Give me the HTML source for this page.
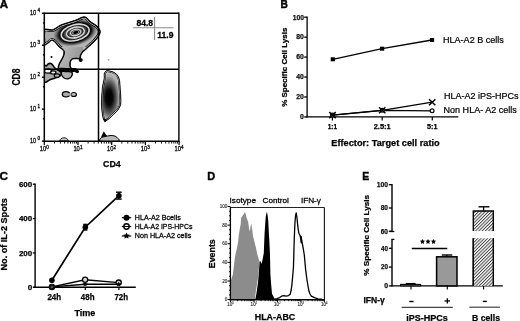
<!DOCTYPE html>
<html><head><meta charset="utf-8"><style>
html,body{margin:0;padding:0;background:#fff;width:520px;height:321px;overflow:hidden}
svg{display:block;font-family:"Liberation Sans", sans-serif;will-change:transform}
</style></head><body>
<svg width="520" height="321" viewBox="0 0 520 321">
<rect width="520" height="321" fill="#fff"/>
<text x="-0.30" y="8.20" font-size="11.3" font-weight="bold" text-anchor="start" fill="#000" stroke="#000" stroke-width="0.4" textLength="8.3" lengthAdjust="spacingAndGlyphs" >A</text>
<defs>
<clipPath id="clipUp"><path d="M40,10 H104 V47 H86 L60,47 L40,47Z"/></clipPath>
<clipPath id="clipA"><rect x="44.3" y="13.4" width="134.5" height="127.7"/></clipPath>
<clipPath id="clipBig"><path d="M43.50,30.10C44.97,27.68 50.05,30.17 52.30,29.70C54.55,29.23 55.60,28.08 57.00,27.30C58.40,26.52 59.15,25.70 60.70,25.00C62.25,24.30 64.42,23.72 66.30,23.10C68.18,22.48 70.22,21.88 72.00,21.30C73.78,20.72 75.50,20.22 77.00,19.60C78.50,18.98 79.83,18.07 81.00,17.60C82.17,17.13 83.00,16.77 84.00,16.80C85.00,16.83 86.08,17.13 87.00,17.80C87.92,18.47 88.50,19.88 89.50,20.80C90.50,21.72 91.75,22.43 93.00,23.30C94.25,24.17 95.78,24.68 97.00,26.00C98.22,27.32 100.05,29.45 100.30,31.20C100.55,32.95 99.55,34.70 98.50,36.50C97.45,38.30 95.58,40.33 94.00,42.00C92.42,43.67 90.42,45.20 89.00,46.50C87.58,47.80 86.58,48.78 85.50,49.80C84.42,50.82 83.28,51.65 82.50,52.60C81.72,53.55 81.18,54.55 80.80,55.50C80.42,56.45 80.67,57.73 80.20,58.30C79.73,58.87 78.87,58.83 78.00,58.90C77.13,58.97 75.95,58.63 75.00,58.70C74.05,58.77 73.00,58.88 72.30,59.30C71.60,59.72 71.13,60.42 70.80,61.20C70.47,61.98 70.33,63.03 70.30,64.00C70.27,64.97 70.32,66.23 70.60,67.00C70.88,67.77 71.27,68.22 72.00,68.60C72.73,68.98 75.33,69.13 75.00,69.30C74.67,69.47 72.17,69.55 70.00,69.60C67.83,69.65 63.92,69.63 62.00,69.60C60.08,69.57 59.13,69.92 58.50,69.40C57.87,68.88 58.03,67.60 58.20,66.50C58.37,65.40 58.90,64.08 59.50,62.80C60.10,61.52 61.13,60.10 61.80,58.80C62.47,57.50 63.17,56.22 63.50,55.00C63.83,53.78 64.05,52.45 63.80,51.50C63.55,50.55 62.75,50.00 62.00,49.30C61.25,48.60 60.10,48.05 59.30,47.30C58.50,46.55 58.05,45.77 57.20,44.80C56.35,43.83 55.18,42.20 54.20,41.50C53.22,40.80 52.40,40.25 51.30,40.60C50.20,40.95 48.90,43.00 47.60,43.60C46.30,44.20 44.18,46.45 43.50,44.20C42.82,41.95 42.03,32.52 43.50,30.10Z"/></clipPath>
<clipPath id="clipCD4"><path d="M106.70,70.60C107.82,70.23 109.53,70.87 111.00,71.30C112.47,71.73 114.25,72.25 115.50,73.20C116.75,74.15 117.78,75.53 118.50,77.00C119.22,78.47 119.50,79.83 119.80,82.00C120.10,84.17 120.12,87.33 120.30,90.00C120.48,92.67 120.83,95.57 120.90,98.00C120.97,100.43 121.18,102.62 120.70,104.60C120.22,106.58 119.20,108.25 118.00,109.90C116.80,111.55 114.95,113.05 113.50,114.50C112.05,115.95 110.47,117.60 109.30,118.60C108.13,119.60 107.22,120.02 106.50,120.50C105.78,120.98 105.55,121.83 105.00,121.50C104.45,121.17 103.67,119.85 103.20,118.50C102.73,117.15 102.48,115.48 102.20,113.40C101.92,111.32 101.62,108.33 101.50,106.00C101.38,103.67 101.42,101.73 101.50,99.40C101.58,97.07 101.85,94.03 102.00,92.00C102.15,89.97 102.05,89.45 102.40,87.20C102.75,84.95 103.78,80.78 104.10,78.50C104.42,76.22 103.87,74.82 104.30,73.50C104.73,72.18 105.58,70.97 106.70,70.60Z"/></clipPath>
<radialGradient id="gHalo" cx="0.5" cy="0.5" r="0.5"><stop offset="0.64" stop-color="#000" stop-opacity="1"/><stop offset="0.74" stop-color="#000" stop-opacity="0.9"/><stop offset="0.87" stop-color="#222" stop-opacity="0.45"/><stop offset="1" stop-color="#333" stop-opacity="0"/></radialGradient>
<radialGradient id="gBand0" cx="0.5" cy="0.5" r="0.5"><stop offset="0.62" stop-color="#8a8a8a"/><stop offset="0.85" stop-color="#222"/><stop offset="1" stop-color="#000"/></radialGradient>
<radialGradient id="gBand1" cx="0.5" cy="0.5" r="0.5"><stop offset="0.55" stop-color="#8a8a8a"/><stop offset="0.85" stop-color="#222"/><stop offset="1" stop-color="#000"/></radialGradient>
<radialGradient id="gBand2" cx="0.5" cy="0.5" r="0.5"><stop offset="0.6" stop-color="#8a8a8a"/><stop offset="0.85" stop-color="#222"/><stop offset="1" stop-color="#000"/></radialGradient>
<radialGradient id="gCD4" cx="0.45" cy="0.5" r="0.5"><stop offset="0" stop-color="#000"/><stop offset="0.3" stop-color="#080808"/><stop offset="0.62" stop-color="#5a5a5a"/><stop offset="0.85" stop-color="#a8a8a8"/><stop offset="1" stop-color="#c0c0c0"/></radialGradient>
</defs>
<g clip-path="url(#clipA)">
<path d="M43.50,30.10C44.97,27.68 50.05,30.17 52.30,29.70C54.55,29.23 55.60,28.08 57.00,27.30C58.40,26.52 59.15,25.70 60.70,25.00C62.25,24.30 64.42,23.72 66.30,23.10C68.18,22.48 70.22,21.88 72.00,21.30C73.78,20.72 75.50,20.22 77.00,19.60C78.50,18.98 79.83,18.07 81.00,17.60C82.17,17.13 83.00,16.77 84.00,16.80C85.00,16.83 86.08,17.13 87.00,17.80C87.92,18.47 88.50,19.88 89.50,20.80C90.50,21.72 91.75,22.43 93.00,23.30C94.25,24.17 95.78,24.68 97.00,26.00C98.22,27.32 100.05,29.45 100.30,31.20C100.55,32.95 99.55,34.70 98.50,36.50C97.45,38.30 95.58,40.33 94.00,42.00C92.42,43.67 90.42,45.20 89.00,46.50C87.58,47.80 86.58,48.78 85.50,49.80C84.42,50.82 83.28,51.65 82.50,52.60C81.72,53.55 81.18,54.55 80.80,55.50C80.42,56.45 80.67,57.73 80.20,58.30C79.73,58.87 78.87,58.83 78.00,58.90C77.13,58.97 75.95,58.63 75.00,58.70C74.05,58.77 73.00,58.88 72.30,59.30C71.60,59.72 71.13,60.42 70.80,61.20C70.47,61.98 70.33,63.03 70.30,64.00C70.27,64.97 70.32,66.23 70.60,67.00C70.88,67.77 71.27,68.22 72.00,68.60C72.73,68.98 75.33,69.13 75.00,69.30C74.67,69.47 72.17,69.55 70.00,69.60C67.83,69.65 63.92,69.63 62.00,69.60C60.08,69.57 59.13,69.92 58.50,69.40C57.87,68.88 58.03,67.60 58.20,66.50C58.37,65.40 58.90,64.08 59.50,62.80C60.10,61.52 61.13,60.10 61.80,58.80C62.47,57.50 63.17,56.22 63.50,55.00C63.83,53.78 64.05,52.45 63.80,51.50C63.55,50.55 62.75,50.00 62.00,49.30C61.25,48.60 60.10,48.05 59.30,47.30C58.50,46.55 58.05,45.77 57.20,44.80C56.35,43.83 55.18,42.20 54.20,41.50C53.22,40.80 52.40,40.25 51.30,40.60C50.20,40.95 48.90,43.00 47.60,43.60C46.30,44.20 44.18,46.45 43.50,44.20C42.82,41.95 42.03,32.52 43.50,30.10Z" fill="#b4b4b4"/>
<g clip-path="url(#clipBig)">
<ellipse cx="51" cy="36" rx="8" ry="6" fill="#a0a0a0" opacity="0.6"/>
<linearGradient id="gStem" x1="0" y1="0" x2="1" y2="0.3"><stop offset="0" stop-color="#c8c8c8"/><stop offset="1" stop-color="#8c8c8c"/></linearGradient>
<rect x="57" y="47" width="26" height="23" fill="url(#gStem)" opacity="0.8"/>
<ellipse cx="75.2" cy="32.6" rx="22.5" ry="13.2" fill="url(#gHalo)" transform="rotate(-14 75.2 32.6)" />
<g clip-path="url(#clipUp)">
<path d="M43.50,30.10C44.97,27.68 50.05,30.17 52.30,29.70C54.55,29.23 55.60,28.08 57.00,27.30C58.40,26.52 59.15,25.70 60.70,25.00C62.25,24.30 64.42,23.72 66.30,23.10C68.18,22.48 70.22,21.88 72.00,21.30C73.78,20.72 75.50,20.22 77.00,19.60C78.50,18.98 79.83,18.07 81.00,17.60C82.17,17.13 83.00,16.77 84.00,16.80C85.00,16.83 86.08,17.13 87.00,17.80C87.92,18.47 88.50,19.88 89.50,20.80C90.50,21.72 91.75,22.43 93.00,23.30C94.25,24.17 95.78,24.68 97.00,26.00C98.22,27.32 100.05,29.45 100.30,31.20C100.55,32.95 99.55,34.70 98.50,36.50C97.45,38.30 95.58,40.33 94.00,42.00C92.42,43.67 90.42,45.20 89.00,46.50C87.58,47.80 86.58,48.78 85.50,49.80C84.42,50.82 83.28,51.65 82.50,52.60C81.72,53.55 81.18,54.55 80.80,55.50C80.42,56.45 80.67,57.73 80.20,58.30C79.73,58.87 78.87,58.83 78.00,58.90C77.13,58.97 75.95,58.63 75.00,58.70C74.05,58.77 73.00,58.88 72.30,59.30C71.60,59.72 71.13,60.42 70.80,61.20C70.47,61.98 70.33,63.03 70.30,64.00C70.27,64.97 70.32,66.23 70.60,67.00C70.88,67.77 71.27,68.22 72.00,68.60C72.73,68.98 75.33,69.13 75.00,69.30C74.67,69.47 72.17,69.55 70.00,69.60C67.83,69.65 63.92,69.63 62.00,69.60C60.08,69.57 59.13,69.92 58.50,69.40C57.87,68.88 58.03,67.60 58.20,66.50C58.37,65.40 58.90,64.08 59.50,62.80C60.10,61.52 61.13,60.10 61.80,58.80C62.47,57.50 63.17,56.22 63.50,55.00C63.83,53.78 64.05,52.45 63.80,51.50C63.55,50.55 62.75,50.00 62.00,49.30C61.25,48.60 60.10,48.05 59.30,47.30C58.50,46.55 58.05,45.77 57.20,44.80C56.35,43.83 55.18,42.20 54.20,41.50C53.22,40.80 52.40,40.25 51.30,40.60C50.20,40.95 48.90,43.00 47.60,43.60C46.30,44.20 44.18,46.45 43.50,44.20C42.82,41.95 42.03,32.52 43.50,30.10Z" fill="none" stroke="#000" stroke-width="4.6"/>
<path d="M43.50,30.10C44.97,27.68 50.05,30.17 52.30,29.70C54.55,29.23 55.60,28.08 57.00,27.30C58.40,26.52 59.15,25.70 60.70,25.00C62.25,24.30 64.42,23.72 66.30,23.10C68.18,22.48 70.22,21.88 72.00,21.30C73.78,20.72 75.50,20.22 77.00,19.60C78.50,18.98 79.83,18.07 81.00,17.60C82.17,17.13 83.00,16.77 84.00,16.80C85.00,16.83 86.08,17.13 87.00,17.80C87.92,18.47 88.50,19.88 89.50,20.80C90.50,21.72 91.75,22.43 93.00,23.30C94.25,24.17 95.78,24.68 97.00,26.00C98.22,27.32 100.05,29.45 100.30,31.20C100.55,32.95 99.55,34.70 98.50,36.50C97.45,38.30 95.58,40.33 94.00,42.00C92.42,43.67 90.42,45.20 89.00,46.50C87.58,47.80 86.58,48.78 85.50,49.80C84.42,50.82 83.28,51.65 82.50,52.60C81.72,53.55 81.18,54.55 80.80,55.50C80.42,56.45 80.67,57.73 80.20,58.30C79.73,58.87 78.87,58.83 78.00,58.90C77.13,58.97 75.95,58.63 75.00,58.70C74.05,58.77 73.00,58.88 72.30,59.30C71.60,59.72 71.13,60.42 70.80,61.20C70.47,61.98 70.33,63.03 70.30,64.00C70.27,64.97 70.32,66.23 70.60,67.00C70.88,67.77 71.27,68.22 72.00,68.60C72.73,68.98 75.33,69.13 75.00,69.30C74.67,69.47 72.17,69.55 70.00,69.60C67.83,69.65 63.92,69.63 62.00,69.60C60.08,69.57 59.13,69.92 58.50,69.40C57.87,68.88 58.03,67.60 58.20,66.50C58.37,65.40 58.90,64.08 59.50,62.80C60.10,61.52 61.13,60.10 61.80,58.80C62.47,57.50 63.17,56.22 63.50,55.00C63.83,53.78 64.05,52.45 63.80,51.50C63.55,50.55 62.75,50.00 62.00,49.30C61.25,48.60 60.10,48.05 59.30,47.30C58.50,46.55 58.05,45.77 57.20,44.80C56.35,43.83 55.18,42.20 54.20,41.50C53.22,40.80 52.40,40.25 51.30,40.60C50.20,40.95 48.90,43.00 47.60,43.60C46.30,44.20 44.18,46.45 43.50,44.20C42.82,41.95 42.03,32.52 43.50,30.10Z" fill="none" stroke="#e0e0e0" stroke-width="3.2"/>
</g>
<path d="M43.50,30.10C44.97,27.68 50.05,30.17 52.30,29.70C54.55,29.23 55.60,28.08 57.00,27.30C58.40,26.52 59.15,25.70 60.70,25.00C62.25,24.30 64.42,23.72 66.30,23.10C68.18,22.48 70.22,21.88 72.00,21.30C73.78,20.72 75.50,20.22 77.00,19.60C78.50,18.98 79.83,18.07 81.00,17.60C82.17,17.13 83.00,16.77 84.00,16.80C85.00,16.83 86.08,17.13 87.00,17.80C87.92,18.47 88.50,19.88 89.50,20.80C90.50,21.72 91.75,22.43 93.00,23.30C94.25,24.17 95.78,24.68 97.00,26.00C98.22,27.32 100.05,29.45 100.30,31.20C100.55,32.95 99.55,34.70 98.50,36.50C97.45,38.30 95.58,40.33 94.00,42.00C92.42,43.67 90.42,45.20 89.00,46.50C87.58,47.80 86.58,48.78 85.50,49.80C84.42,50.82 83.28,51.65 82.50,52.60C81.72,53.55 81.18,54.55 80.80,55.50C80.42,56.45 80.67,57.73 80.20,58.30C79.73,58.87 78.87,58.83 78.00,58.90C77.13,58.97 75.95,58.63 75.00,58.70C74.05,58.77 73.00,58.88 72.30,59.30C71.60,59.72 71.13,60.42 70.80,61.20C70.47,61.98 70.33,63.03 70.30,64.00C70.27,64.97 70.32,66.23 70.60,67.00C70.88,67.77 71.27,68.22 72.00,68.60C72.73,68.98 75.33,69.13 75.00,69.30C74.67,69.47 72.17,69.55 70.00,69.60C67.83,69.65 63.92,69.63 62.00,69.60C60.08,69.57 59.13,69.92 58.50,69.40C57.87,68.88 58.03,67.60 58.20,66.50C58.37,65.40 58.90,64.08 59.50,62.80C60.10,61.52 61.13,60.10 61.80,58.80C62.47,57.50 63.17,56.22 63.50,55.00C63.83,53.78 64.05,52.45 63.80,51.50C63.55,50.55 62.75,50.00 62.00,49.30C61.25,48.60 60.10,48.05 59.30,47.30C58.50,46.55 58.05,45.77 57.20,44.80C56.35,43.83 55.18,42.20 54.20,41.50C53.22,40.80 52.40,40.25 51.30,40.60C50.20,40.95 48.90,43.00 47.60,43.60C46.30,44.20 44.18,46.45 43.50,44.20C42.82,41.95 42.03,32.52 43.50,30.10Z" fill="none" stroke="#000" stroke-width="2.0"/>
</g>
<path d="M43.50,30.10C44.97,27.68 50.05,30.17 52.30,29.70C54.55,29.23 55.60,28.08 57.00,27.30C58.40,26.52 59.15,25.70 60.70,25.00C62.25,24.30 64.42,23.72 66.30,23.10C68.18,22.48 70.22,21.88 72.00,21.30C73.78,20.72 75.50,20.22 77.00,19.60C78.50,18.98 79.83,18.07 81.00,17.60C82.17,17.13 83.00,16.77 84.00,16.80C85.00,16.83 86.08,17.13 87.00,17.80C87.92,18.47 88.50,19.88 89.50,20.80C90.50,21.72 91.75,22.43 93.00,23.30C94.25,24.17 95.78,24.68 97.00,26.00C98.22,27.32 100.05,29.45 100.30,31.20C100.55,32.95 99.55,34.70 98.50,36.50C97.45,38.30 95.58,40.33 94.00,42.00C92.42,43.67 90.42,45.20 89.00,46.50C87.58,47.80 86.58,48.78 85.50,49.80C84.42,50.82 83.28,51.65 82.50,52.60C81.72,53.55 81.18,54.55 80.80,55.50C80.42,56.45 80.67,57.73 80.20,58.30C79.73,58.87 78.87,58.83 78.00,58.90C77.13,58.97 75.95,58.63 75.00,58.70C74.05,58.77 73.00,58.88 72.30,59.30C71.60,59.72 71.13,60.42 70.80,61.20C70.47,61.98 70.33,63.03 70.30,64.00C70.27,64.97 70.32,66.23 70.60,67.00C70.88,67.77 71.27,68.22 72.00,68.60C72.73,68.98 75.33,69.13 75.00,69.30C74.67,69.47 72.17,69.55 70.00,69.60C67.83,69.65 63.92,69.63 62.00,69.60C60.08,69.57 59.13,69.92 58.50,69.40C57.87,68.88 58.03,67.60 58.20,66.50C58.37,65.40 58.90,64.08 59.50,62.80C60.10,61.52 61.13,60.10 61.80,58.80C62.47,57.50 63.17,56.22 63.50,55.00C63.83,53.78 64.05,52.45 63.80,51.50C63.55,50.55 62.75,50.00 62.00,49.30C61.25,48.60 60.10,48.05 59.30,47.30C58.50,46.55 58.05,45.77 57.20,44.80C56.35,43.83 55.18,42.20 54.20,41.50C53.22,40.80 52.40,40.25 51.30,40.60C50.20,40.95 48.90,43.00 47.60,43.60C46.30,44.20 44.18,46.45 43.50,44.20C42.82,41.95 42.03,32.52 43.50,30.10Z" fill="none" stroke="#000" stroke-width="0.9"/>
<ellipse cx="75.2" cy="32.6" rx="14.2" ry="7.9" fill="url(#gBand0)" transform="rotate(-14 75.2 32.6)" />
<ellipse cx="75.2" cy="32.6" rx="14.2" ry="7.9" fill="none" transform="rotate(-14 75.2 32.6)" stroke="#d8d8d8" stroke-width="1.6"/>
<ellipse cx="75.4" cy="32.5" rx="9.1" ry="5.1" fill="url(#gBand1)" transform="rotate(-14 75.4 32.5)" />
<ellipse cx="75.4" cy="32.5" rx="9.1" ry="5.1" fill="none" transform="rotate(-14 75.4 32.5)" stroke="#d8d8d8" stroke-width="1.4"/>
<ellipse cx="75.6" cy="32.4" rx="5.2" ry="3.0" fill="url(#gBand2)" transform="rotate(-14 75.6 32.4)" />
<ellipse cx="75.6" cy="32.4" rx="5.2" ry="3.0" fill="none" transform="rotate(-14 75.6 32.4)" stroke="#d0d0d0" stroke-width="1.2"/>
<ellipse cx="75.8" cy="32.4" rx="2.6" ry="1.5" fill="#000" transform="rotate(-14 75.8 32.4)" />
<circle cx="51.5" cy="57.1" r="1.0" fill="#000"/>
<circle cx="108.7" cy="59.8" r="0.6" fill="#333"/>
<circle cx="80.7" cy="60.0" r="2.0" fill="#000"/>
<path d="M58.50,68.00C60.83,67.33 67.00,68.13 70.00,68.20C73.00,68.27 75.00,67.85 76.50,68.40C78.00,68.95 78.82,70.70 79.00,71.50C79.18,72.30 78.43,73.12 77.60,73.20C76.77,73.28 75.93,72.17 74.00,72.00C72.07,71.83 68.33,72.12 66.00,72.20C63.67,72.28 61.67,72.50 60.00,72.50C58.33,72.50 56.25,72.95 56.00,72.20C55.75,71.45 56.17,68.67 58.50,68.00Z" fill="#000"/>
<path d="M61.40,71.80C62.15,70.98 65.25,71.53 67.00,71.60C68.75,71.67 71.15,71.38 71.90,72.20C72.65,73.02 72.07,75.42 71.50,76.50C70.93,77.58 69.58,78.37 68.50,78.70C67.42,79.03 66.00,78.87 65.00,78.50C64.00,78.13 63.10,77.62 62.50,76.50C61.90,75.38 60.65,72.62 61.40,71.80Z" fill="#b0b0b0" stroke="#000" stroke-width="1.3"/>
<path d="M44.30,66.50C44.67,63.88 45.80,66.25 46.50,65.80C47.20,65.35 47.75,64.17 48.50,63.80C49.25,63.43 50.25,63.32 51.00,63.60C51.75,63.88 52.33,64.73 53.00,65.50C53.67,66.27 54.17,67.42 55.00,68.20C55.83,68.98 57.00,69.52 58.00,70.20C59.00,70.88 60.58,71.42 61.00,72.30C61.42,73.18 61.08,74.68 60.50,75.50C59.92,76.32 58.50,76.75 57.50,77.20C56.50,77.65 55.75,77.77 54.50,78.20C53.25,78.63 51.70,79.25 50.00,79.80C48.30,80.35 45.25,83.72 44.30,81.50C43.35,79.28 43.93,69.12 44.30,66.50Z" fill="#a8a8a8" stroke="#000" stroke-width="1.6"/>
<ellipse cx="48.0" cy="71.0" rx="3.6" ry="2.2" fill="#fff" stroke="#000" stroke-width="1.3"/>
<ellipse cx="53.3" cy="72.4" rx="2.6" ry="1.6" fill="#f0f0f0" stroke="#000" stroke-width="1.2"/>
<ellipse cx="57" cy="75.6" rx="2.8" ry="1.8" fill="#b0b0b0" stroke="#000" stroke-width="1.2"/>
<ellipse cx="66.0" cy="94.2" rx="3.7" ry="2.6" fill="#aaa" stroke="#000" stroke-width="1.2"/>
<ellipse cx="73.8" cy="94.5" rx="2.6" ry="2.0" fill="#bbb" stroke="#000" stroke-width="1.2"/>
<rect x="68.5" y="93.2" width="3" height="2.5" fill="#aaa"/>
<path d="M106.70,70.60C107.82,70.23 109.53,70.87 111.00,71.30C112.47,71.73 114.25,72.25 115.50,73.20C116.75,74.15 117.78,75.53 118.50,77.00C119.22,78.47 119.50,79.83 119.80,82.00C120.10,84.17 120.12,87.33 120.30,90.00C120.48,92.67 120.83,95.57 120.90,98.00C120.97,100.43 121.18,102.62 120.70,104.60C120.22,106.58 119.20,108.25 118.00,109.90C116.80,111.55 114.95,113.05 113.50,114.50C112.05,115.95 110.47,117.60 109.30,118.60C108.13,119.60 107.22,120.02 106.50,120.50C105.78,120.98 105.55,121.83 105.00,121.50C104.45,121.17 103.67,119.85 103.20,118.50C102.73,117.15 102.48,115.48 102.20,113.40C101.92,111.32 101.62,108.33 101.50,106.00C101.38,103.67 101.42,101.73 101.50,99.40C101.58,97.07 101.85,94.03 102.00,92.00C102.15,89.97 102.05,89.45 102.40,87.20C102.75,84.95 103.78,80.78 104.10,78.50C104.42,76.22 103.87,74.82 104.30,73.50C104.73,72.18 105.58,70.97 106.70,70.60Z" fill="#bdbdbd"/>
<g clip-path="url(#clipCD4)">
<ellipse cx="110.2" cy="97.5" rx="12" ry="25" fill="url(#gCD4)"/>
<path d="M106.70,70.60C107.82,70.23 109.53,70.87 111.00,71.30C112.47,71.73 114.25,72.25 115.50,73.20C116.75,74.15 117.78,75.53 118.50,77.00C119.22,78.47 119.50,79.83 119.80,82.00C120.10,84.17 120.12,87.33 120.30,90.00C120.48,92.67 120.83,95.57 120.90,98.00C120.97,100.43 121.18,102.62 120.70,104.60C120.22,106.58 119.20,108.25 118.00,109.90C116.80,111.55 114.95,113.05 113.50,114.50C112.05,115.95 110.47,117.60 109.30,118.60C108.13,119.60 107.22,120.02 106.50,120.50C105.78,120.98 105.55,121.83 105.00,121.50C104.45,121.17 103.67,119.85 103.20,118.50C102.73,117.15 102.48,115.48 102.20,113.40C101.92,111.32 101.62,108.33 101.50,106.00C101.38,103.67 101.42,101.73 101.50,99.40C101.58,97.07 101.85,94.03 102.00,92.00C102.15,89.97 102.05,89.45 102.40,87.20C102.75,84.95 103.78,80.78 104.10,78.50C104.42,76.22 103.87,74.82 104.30,73.50C104.73,72.18 105.58,70.97 106.70,70.60Z" fill="none" stroke="#000" stroke-width="2.9"/>
<path d="M106.70,70.60C107.82,70.23 109.53,70.87 111.00,71.30C112.47,71.73 114.25,72.25 115.50,73.20C116.75,74.15 117.78,75.53 118.50,77.00C119.22,78.47 119.50,79.83 119.80,82.00C120.10,84.17 120.12,87.33 120.30,90.00C120.48,92.67 120.83,95.57 120.90,98.00C120.97,100.43 121.18,102.62 120.70,104.60C120.22,106.58 119.20,108.25 118.00,109.90C116.80,111.55 114.95,113.05 113.50,114.50C112.05,115.95 110.47,117.60 109.30,118.60C108.13,119.60 107.22,120.02 106.50,120.50C105.78,120.98 105.55,121.83 105.00,121.50C104.45,121.17 103.67,119.85 103.20,118.50C102.73,117.15 102.48,115.48 102.20,113.40C101.92,111.32 101.62,108.33 101.50,106.00C101.38,103.67 101.42,101.73 101.50,99.40C101.58,97.07 101.85,94.03 102.00,92.00C102.15,89.97 102.05,89.45 102.40,87.20C102.75,84.95 103.78,80.78 104.10,78.50C104.42,76.22 103.87,74.82 104.30,73.50C104.73,72.18 105.58,70.97 106.70,70.60Z" fill="none" stroke="#e8e8e8" stroke-width="1.9"/>
<path d="M106.70,70.60C107.82,70.23 109.53,70.87 111.00,71.30C112.47,71.73 114.25,72.25 115.50,73.20C116.75,74.15 117.78,75.53 118.50,77.00C119.22,78.47 119.50,79.83 119.80,82.00C120.10,84.17 120.12,87.33 120.30,90.00C120.48,92.67 120.83,95.57 120.90,98.00C120.97,100.43 121.18,102.62 120.70,104.60C120.22,106.58 119.20,108.25 118.00,109.90C116.80,111.55 114.95,113.05 113.50,114.50C112.05,115.95 110.47,117.60 109.30,118.60C108.13,119.60 107.22,120.02 106.50,120.50C105.78,120.98 105.55,121.83 105.00,121.50C104.45,121.17 103.67,119.85 103.20,118.50C102.73,117.15 102.48,115.48 102.20,113.40C101.92,111.32 101.62,108.33 101.50,106.00C101.38,103.67 101.42,101.73 101.50,99.40C101.58,97.07 101.85,94.03 102.00,92.00C102.15,89.97 102.05,89.45 102.40,87.20C102.75,84.95 103.78,80.78 104.10,78.50C104.42,76.22 103.87,74.82 104.30,73.50C104.73,72.18 105.58,70.97 106.70,70.60Z" fill="none" stroke="#000" stroke-width="1.0"/>
</g>
<path d="M106.70,70.60C107.82,70.23 109.53,70.87 111.00,71.30C112.47,71.73 114.25,72.25 115.50,73.20C116.75,74.15 117.78,75.53 118.50,77.00C119.22,78.47 119.50,79.83 119.80,82.00C120.10,84.17 120.12,87.33 120.30,90.00C120.48,92.67 120.83,95.57 120.90,98.00C120.97,100.43 121.18,102.62 120.70,104.60C120.22,106.58 119.20,108.25 118.00,109.90C116.80,111.55 114.95,113.05 113.50,114.50C112.05,115.95 110.47,117.60 109.30,118.60C108.13,119.60 107.22,120.02 106.50,120.50C105.78,120.98 105.55,121.83 105.00,121.50C104.45,121.17 103.67,119.85 103.20,118.50C102.73,117.15 102.48,115.48 102.20,113.40C101.92,111.32 101.62,108.33 101.50,106.00C101.38,103.67 101.42,101.73 101.50,99.40C101.58,97.07 101.85,94.03 102.00,92.00C102.15,89.97 102.05,89.45 102.40,87.20C102.75,84.95 103.78,80.78 104.10,78.50C104.42,76.22 103.87,74.82 104.30,73.50C104.73,72.18 105.58,70.97 106.70,70.60Z" fill="none" stroke="#000" stroke-width="0.7"/>
<path d="M103.2,118.5 L104.8,122.6 L107.5,119.8Z" fill="#000"/>
<path d="M100.50,141.20C97.72,140.60 100.75,138.37 101.50,137.60C102.25,136.83 103.58,136.93 105.00,136.60C106.42,136.27 108.50,135.73 110.00,135.60C111.50,135.47 112.77,135.43 114.00,135.80C115.23,136.17 116.70,136.90 117.40,137.80C118.10,138.70 121.02,140.63 118.20,141.20C115.38,141.77 103.28,141.80 100.50,141.20Z" fill="#b8b8b8" stroke="#000" stroke-width="1.0"/>
<path d="M99.7,141 L101.5,136 L103.8,131.2 L105.8,134.5 L107.2,135.8 L105,136.6 L101.5,137.2Z" fill="#000"/>
<path d="M59.8,141 C60,137 67.5,136.5 68.4,141Z" fill="#ccc" stroke="#000" stroke-width="0.9"/>
</g>
<line x1="44.30" y1="13.20" x2="178.90" y2="13.20" stroke="#000" stroke-width="1.4" />
<line x1="178.90" y1="12.50" x2="178.90" y2="141.30" stroke="#000" stroke-width="1.4" />
<line x1="44.30" y1="12.50" x2="44.30" y2="141.90" stroke="#000" stroke-width="1.5" />
<line x1="43.60" y1="141.30" x2="179.60" y2="141.30" stroke="#000" stroke-width="1.6" />
<line x1="98.50" y1="13.20" x2="98.50" y2="141.00" stroke="#000" stroke-width="1.5" />
<line x1="44.30" y1="69.20" x2="178.90" y2="69.20" stroke="#000" stroke-width="1.5" />
<line x1="41.90" y1="141.10" x2="44.30" y2="141.10" stroke="#000" stroke-width="1.4" />
<text x="36.10" y="142.70" font-size="6.8" font-weight="normal" text-anchor="end" fill="#000" stroke="#000" stroke-width="0.26" textLength="6.2" lengthAdjust="spacingAndGlyphs" >10</text>
<text x="37.40" y="139.80" font-size="4.6" font-weight="normal" text-anchor="start" fill="#000" stroke="#000" stroke-width="0.26" >0</text>
<line x1="41.90" y1="109.15" x2="44.30" y2="109.15" stroke="#000" stroke-width="1.4" />
<text x="36.10" y="110.75" font-size="6.8" font-weight="normal" text-anchor="end" fill="#000" stroke="#000" stroke-width="0.26" textLength="6.2" lengthAdjust="spacingAndGlyphs" >10</text>
<text x="37.40" y="107.85" font-size="4.6" font-weight="normal" text-anchor="start" fill="#000" stroke="#000" stroke-width="0.26" >1</text>
<line x1="41.90" y1="77.20" x2="44.30" y2="77.20" stroke="#000" stroke-width="1.4" />
<text x="36.10" y="78.80" font-size="6.8" font-weight="normal" text-anchor="end" fill="#000" stroke="#000" stroke-width="0.26" textLength="6.2" lengthAdjust="spacingAndGlyphs" >10</text>
<text x="37.40" y="75.90" font-size="4.6" font-weight="normal" text-anchor="start" fill="#000" stroke="#000" stroke-width="0.26" >2</text>
<line x1="41.90" y1="45.25" x2="44.30" y2="45.25" stroke="#000" stroke-width="1.4" />
<text x="36.10" y="46.85" font-size="6.8" font-weight="normal" text-anchor="end" fill="#000" stroke="#000" stroke-width="0.26" textLength="6.2" lengthAdjust="spacingAndGlyphs" >10</text>
<text x="37.40" y="43.95" font-size="4.6" font-weight="normal" text-anchor="start" fill="#000" stroke="#000" stroke-width="0.26" >3</text>
<line x1="41.90" y1="13.30" x2="44.30" y2="13.30" stroke="#000" stroke-width="1.4" />
<text x="36.10" y="14.90" font-size="6.8" font-weight="normal" text-anchor="end" fill="#000" stroke="#000" stroke-width="0.26" textLength="6.2" lengthAdjust="spacingAndGlyphs" >10</text>
<text x="37.40" y="12.00" font-size="4.6" font-weight="normal" text-anchor="start" fill="#000" stroke="#000" stroke-width="0.26" >4</text>
<line x1="42.90" y1="118.77" x2="44.30" y2="118.77" stroke="#000" stroke-width="1.4" />
<line x1="42.90" y1="86.82" x2="44.30" y2="86.82" stroke="#000" stroke-width="1.4" />
<line x1="42.90" y1="54.87" x2="44.30" y2="54.87" stroke="#000" stroke-width="1.4" />
<line x1="42.90" y1="22.92" x2="44.30" y2="22.92" stroke="#000" stroke-width="1.4" />
<line x1="44.30" y1="141.30" x2="44.30" y2="145.00" stroke="#000" stroke-width="1.2" />
<text x="42.90" y="151.20" font-size="6.8" font-weight="normal" text-anchor="middle" fill="#000" stroke="#000" stroke-width="0.26" textLength="6.4" lengthAdjust="spacingAndGlyphs" >10</text>
<text x="46.20" y="148.90" font-size="4.6" font-weight="normal" text-anchor="start" fill="#000" stroke="#000" stroke-width="0.26" >0</text>
<line x1="78.00" y1="141.30" x2="78.00" y2="145.00" stroke="#000" stroke-width="1.2" />
<text x="76.60" y="151.20" font-size="6.8" font-weight="normal" text-anchor="middle" fill="#000" stroke="#000" stroke-width="0.26" textLength="6.4" lengthAdjust="spacingAndGlyphs" >10</text>
<text x="79.90" y="148.90" font-size="4.6" font-weight="normal" text-anchor="start" fill="#000" stroke="#000" stroke-width="0.26" >1</text>
<line x1="111.70" y1="141.30" x2="111.70" y2="145.00" stroke="#000" stroke-width="1.2" />
<text x="110.30" y="151.20" font-size="6.8" font-weight="normal" text-anchor="middle" fill="#000" stroke="#000" stroke-width="0.26" textLength="6.4" lengthAdjust="spacingAndGlyphs" >10</text>
<text x="113.60" y="148.90" font-size="4.6" font-weight="normal" text-anchor="start" fill="#000" stroke="#000" stroke-width="0.26" >2</text>
<line x1="145.40" y1="141.30" x2="145.40" y2="145.00" stroke="#000" stroke-width="1.2" />
<text x="144.00" y="151.20" font-size="6.8" font-weight="normal" text-anchor="middle" fill="#000" stroke="#000" stroke-width="0.26" textLength="6.4" lengthAdjust="spacingAndGlyphs" >10</text>
<text x="147.30" y="148.90" font-size="4.6" font-weight="normal" text-anchor="start" fill="#000" stroke="#000" stroke-width="0.26" >3</text>
<line x1="179.10" y1="141.30" x2="179.10" y2="145.00" stroke="#000" stroke-width="1.2" />
<text x="177.70" y="151.20" font-size="6.8" font-weight="normal" text-anchor="middle" fill="#000" stroke="#000" stroke-width="0.26" textLength="6.4" lengthAdjust="spacingAndGlyphs" >10</text>
<text x="181.00" y="148.90" font-size="4.6" font-weight="normal" text-anchor="start" fill="#000" stroke="#000" stroke-width="0.26" >4</text>
<line x1="54.44" y1="141.30" x2="54.44" y2="143.60" stroke="#000" stroke-width="0.9" />
<line x1="60.38" y1="141.30" x2="60.38" y2="143.60" stroke="#000" stroke-width="0.9" />
<line x1="64.59" y1="141.30" x2="64.59" y2="143.60" stroke="#000" stroke-width="0.9" />
<line x1="67.86" y1="141.30" x2="67.86" y2="143.60" stroke="#000" stroke-width="0.9" />
<line x1="70.52" y1="141.30" x2="70.52" y2="143.60" stroke="#000" stroke-width="0.9" />
<line x1="72.78" y1="141.30" x2="72.78" y2="143.60" stroke="#000" stroke-width="0.9" />
<line x1="74.73" y1="141.30" x2="74.73" y2="143.60" stroke="#000" stroke-width="0.9" />
<line x1="76.46" y1="141.30" x2="76.46" y2="143.60" stroke="#000" stroke-width="0.9" />
<line x1="88.14" y1="141.30" x2="88.14" y2="143.60" stroke="#000" stroke-width="0.9" />
<line x1="94.08" y1="141.30" x2="94.08" y2="143.60" stroke="#000" stroke-width="0.9" />
<line x1="98.29" y1="141.30" x2="98.29" y2="143.60" stroke="#000" stroke-width="0.9" />
<line x1="101.56" y1="141.30" x2="101.56" y2="143.60" stroke="#000" stroke-width="0.9" />
<line x1="104.22" y1="141.30" x2="104.22" y2="143.60" stroke="#000" stroke-width="0.9" />
<line x1="106.48" y1="141.30" x2="106.48" y2="143.60" stroke="#000" stroke-width="0.9" />
<line x1="108.43" y1="141.30" x2="108.43" y2="143.60" stroke="#000" stroke-width="0.9" />
<line x1="110.16" y1="141.30" x2="110.16" y2="143.60" stroke="#000" stroke-width="0.9" />
<line x1="121.84" y1="141.30" x2="121.84" y2="143.60" stroke="#000" stroke-width="0.9" />
<line x1="127.78" y1="141.30" x2="127.78" y2="143.60" stroke="#000" stroke-width="0.9" />
<line x1="131.99" y1="141.30" x2="131.99" y2="143.60" stroke="#000" stroke-width="0.9" />
<line x1="135.26" y1="141.30" x2="135.26" y2="143.60" stroke="#000" stroke-width="0.9" />
<line x1="137.92" y1="141.30" x2="137.92" y2="143.60" stroke="#000" stroke-width="0.9" />
<line x1="140.18" y1="141.30" x2="140.18" y2="143.60" stroke="#000" stroke-width="0.9" />
<line x1="142.13" y1="141.30" x2="142.13" y2="143.60" stroke="#000" stroke-width="0.9" />
<line x1="143.86" y1="141.30" x2="143.86" y2="143.60" stroke="#000" stroke-width="0.9" />
<line x1="155.54" y1="141.30" x2="155.54" y2="143.60" stroke="#000" stroke-width="0.9" />
<line x1="161.48" y1="141.30" x2="161.48" y2="143.60" stroke="#000" stroke-width="0.9" />
<line x1="165.69" y1="141.30" x2="165.69" y2="143.60" stroke="#000" stroke-width="0.9" />
<line x1="168.96" y1="141.30" x2="168.96" y2="143.60" stroke="#000" stroke-width="0.9" />
<line x1="171.62" y1="141.30" x2="171.62" y2="143.60" stroke="#000" stroke-width="0.9" />
<line x1="173.88" y1="141.30" x2="173.88" y2="143.60" stroke="#000" stroke-width="0.9" />
<line x1="175.83" y1="141.30" x2="175.83" y2="143.60" stroke="#000" stroke-width="0.9" />
<line x1="177.56" y1="141.30" x2="177.56" y2="143.60" stroke="#000" stroke-width="0.9" />
<text x="19.60" y="77.00" font-size="10.0" font-weight="bold" text-anchor="middle" fill="#000" stroke="#000" stroke-width="0.25" textLength="17.2" lengthAdjust="spacingAndGlyphs" transform="rotate(-90 19.60 77.00)" >CD8</text>
<text x="111.85" y="166.60" font-size="9.3" font-weight="bold" text-anchor="middle" fill="#000" stroke="#000" stroke-width="0.25" textLength="17.6" lengthAdjust="spacingAndGlyphs" >CD4</text>
<text x="136.50" y="25.50" font-size="9.0" font-weight="bold" text-anchor="start" fill="#000" stroke="#000" stroke-width="0.3" textLength="16.6" lengthAdjust="spacingAndGlyphs" >84.8</text>
<text x="157.30" y="37.90" font-size="9.0" font-weight="bold" text-anchor="start" fill="#000" stroke="#000" stroke-width="0.3" textLength="16.2" lengthAdjust="spacingAndGlyphs" >11.9</text>
<line x1="132.90" y1="27.70" x2="173.60" y2="27.70" stroke="#8a8a8a" stroke-width="1.1" />
<line x1="154.60" y1="17.10" x2="154.60" y2="40.10" stroke="#8a8a8a" stroke-width="1.1" />
<text x="280.40" y="8.40" font-size="11.3" font-weight="bold" text-anchor="start" fill="#000" stroke="#000" stroke-width="0.4" textLength="7.4" lengthAdjust="spacingAndGlyphs" >B</text>
<line x1="307.10" y1="16.40" x2="307.10" y2="117.60" stroke="#000" stroke-width="1.3" />
<line x1="306.50" y1="116.90" x2="458.30" y2="116.90" stroke="#000" stroke-width="1.3" />
<line x1="304.20" y1="116.90" x2="307.10" y2="116.90" stroke="#000" stroke-width="1.3" />
<text x="303.90" y="119.20" font-size="6.9" font-weight="bold" text-anchor="end" fill="#111" stroke="#111" stroke-width="0.25" >0</text>
<line x1="304.20" y1="96.96" x2="307.10" y2="96.96" stroke="#000" stroke-width="1.3" />
<text x="303.90" y="99.26" font-size="6.9" font-weight="bold" text-anchor="end" fill="#111" stroke="#111" stroke-width="0.25" textLength="7.6" lengthAdjust="spacingAndGlyphs" >20</text>
<line x1="304.20" y1="77.02" x2="307.10" y2="77.02" stroke="#000" stroke-width="1.3" />
<text x="303.90" y="79.32" font-size="6.9" font-weight="bold" text-anchor="end" fill="#111" stroke="#111" stroke-width="0.25" textLength="7.6" lengthAdjust="spacingAndGlyphs" >40</text>
<line x1="304.20" y1="57.08" x2="307.10" y2="57.08" stroke="#000" stroke-width="1.3" />
<text x="303.90" y="59.38" font-size="6.9" font-weight="bold" text-anchor="end" fill="#111" stroke="#111" stroke-width="0.25" textLength="7.6" lengthAdjust="spacingAndGlyphs" >60</text>
<line x1="304.20" y1="37.14" x2="307.10" y2="37.14" stroke="#000" stroke-width="1.3" />
<text x="303.90" y="39.44" font-size="6.9" font-weight="bold" text-anchor="end" fill="#111" stroke="#111" stroke-width="0.25" textLength="7.6" lengthAdjust="spacingAndGlyphs" >80</text>
<line x1="304.20" y1="17.20" x2="307.10" y2="17.20" stroke="#000" stroke-width="1.3" />
<text x="303.90" y="19.50" font-size="6.9" font-weight="bold" text-anchor="end" fill="#111" stroke="#111" stroke-width="0.25" textLength="11.2" lengthAdjust="spacingAndGlyphs" >100</text>
<line x1="332.40" y1="116.90" x2="332.40" y2="120.50" stroke="#000" stroke-width="1.2" />
<text x="332.40" y="129.10" font-size="7.2" font-weight="bold" text-anchor="middle" fill="#000" stroke="#000" stroke-width="0.25" textLength="9.4" lengthAdjust="spacingAndGlyphs" >1:1</text>
<line x1="382.20" y1="116.90" x2="382.20" y2="120.50" stroke="#000" stroke-width="1.2" />
<text x="382.20" y="129.10" font-size="7.2" font-weight="bold" text-anchor="middle" fill="#000" stroke="#000" stroke-width="0.25" textLength="17.0" lengthAdjust="spacingAndGlyphs" >2.5:1</text>
<line x1="432.30" y1="116.90" x2="432.30" y2="120.50" stroke="#000" stroke-width="1.2" />
<text x="432.30" y="129.10" font-size="7.2" font-weight="bold" text-anchor="middle" fill="#000" stroke="#000" stroke-width="0.25" textLength="10.4" lengthAdjust="spacingAndGlyphs" >5:1</text>
<text x="385.50" y="146.40" font-size="9.3" font-weight="bold" text-anchor="middle" fill="#000" stroke="#000" stroke-width="0.25" textLength="108.5" lengthAdjust="spacingAndGlyphs" >Effector: Target cell ratio</text>
<text x="286.60" y="67.20" font-size="8.0" font-weight="bold" text-anchor="middle" fill="#000" stroke="#000" stroke-width="0.25" textLength="79.2" lengthAdjust="spacingAndGlyphs" transform="rotate(-90 286.60 67.20)" >% Specific Cell Lysis</text>
<polyline points="332.8,59.3 382.1,48.7 432.0,40.0" fill="none" stroke="#000" stroke-width="1.3"/>
<rect x="330.7" y="57.3" width="4.2" height="4.0" fill="#000"/>
<rect x="380.0" y="46.7" width="4.2" height="4.0" fill="#000"/>
<rect x="429.9" y="38.0" width="4.2" height="4.0" fill="#000"/>
<polyline points="332.5,115.1 382.2,110.3 432.2,102.2" fill="none" stroke="#000" stroke-width="1.3"/>
<polyline points="332.5,115.1 382.2,110.3 432.1,110.8" fill="none" stroke="#000" stroke-width="1.3"/>
<circle cx="332.5" cy="115.1" r="1.9" fill="#fff" stroke="#000" stroke-width="1.2"/>
<circle cx="382.2" cy="110.3" r="1.9" fill="#fff" stroke="#000" stroke-width="1.2"/>
<circle cx="432.1" cy="110.8" r="1.9" fill="#fff" stroke="#000" stroke-width="1.2"/>
<path d="M329.3,112.1L335.7,118.1M329.3,118.1L335.7,112.1" stroke="#000" stroke-width="1.5"/>
<path d="M379.0,107.3L385.4,113.3M379.0,113.3L385.4,107.3" stroke="#000" stroke-width="1.5"/>
<path d="M429.0,99.2L435.4,105.2M429.0,105.2L435.4,99.2" stroke="#000" stroke-width="1.5"/>
<text x="443.00" y="42.70" font-size="9.0" font-weight="normal" text-anchor="start" fill="#000" stroke="#000" stroke-width="0.22" textLength="60.8" lengthAdjust="spacingAndGlyphs" >HLA-A2 B cells</text>
<text x="444.00" y="98.90" font-size="9.0" font-weight="normal" text-anchor="start" fill="#000" stroke="#000" stroke-width="0.22" >HLA-A2 iPS-HPCs</text>
<text x="443.50" y="112.80" font-size="9.0" font-weight="normal" text-anchor="start" fill="#000" stroke="#000" stroke-width="0.22" textLength="73.4" lengthAdjust="spacingAndGlyphs" >Non HLA- A2 cells</text>
<text x="-0.60" y="179.60" font-size="11.3" font-weight="bold" text-anchor="start" fill="#000" stroke="#000" stroke-width="0.4" textLength="8.5" lengthAdjust="spacingAndGlyphs" >C</text>
<line x1="35.10" y1="183.60" x2="35.10" y2="287.90" stroke="#000" stroke-width="1.4" />
<line x1="33.30" y1="287.30" x2="135.80" y2="287.30" stroke="#000" stroke-width="1.4" />
<line x1="32.80" y1="287.30" x2="35.10" y2="287.30" stroke="#000" stroke-width="1.3" />
<text x="32.20" y="290.20" font-size="8.1" font-weight="bold" text-anchor="end" fill="#000" stroke="#000" stroke-width="0.25" >0</text>
<line x1="32.80" y1="252.94" x2="35.10" y2="252.94" stroke="#000" stroke-width="1.3" />
<text x="32.20" y="255.84" font-size="8.1" font-weight="bold" text-anchor="end" fill="#000" stroke="#000" stroke-width="0.25" textLength="13.3" lengthAdjust="spacingAndGlyphs" >200</text>
<line x1="32.80" y1="218.58" x2="35.10" y2="218.58" stroke="#000" stroke-width="1.3" />
<text x="32.20" y="221.48" font-size="8.1" font-weight="bold" text-anchor="end" fill="#000" stroke="#000" stroke-width="0.25" textLength="13.3" lengthAdjust="spacingAndGlyphs" >400</text>
<line x1="32.80" y1="184.22" x2="35.10" y2="184.22" stroke="#000" stroke-width="1.3" />
<text x="32.20" y="187.12" font-size="8.1" font-weight="bold" text-anchor="end" fill="#000" stroke="#000" stroke-width="0.25" textLength="13.3" lengthAdjust="spacingAndGlyphs" >600</text>
<line x1="51.90" y1="287.30" x2="51.90" y2="290.00" stroke="#000" stroke-width="1.2" />
<text x="54.30" y="300.00" font-size="8.5" font-weight="bold" text-anchor="middle" fill="#000" stroke="#000" stroke-width="0.25" textLength="13.7" lengthAdjust="spacingAndGlyphs" >24h</text>
<line x1="85.30" y1="287.30" x2="85.30" y2="290.00" stroke="#000" stroke-width="1.2" />
<text x="87.70" y="300.00" font-size="8.5" font-weight="bold" text-anchor="middle" fill="#000" stroke="#000" stroke-width="0.25" textLength="13.7" lengthAdjust="spacingAndGlyphs" >48h</text>
<line x1="118.90" y1="287.30" x2="118.90" y2="290.00" stroke="#000" stroke-width="1.2" />
<text x="121.30" y="300.00" font-size="8.5" font-weight="bold" text-anchor="middle" fill="#000" stroke="#000" stroke-width="0.25" textLength="13.7" lengthAdjust="spacingAndGlyphs" >72h</text>
<text x="84.90" y="316.40" font-size="9.3" font-weight="bold" text-anchor="middle" fill="#000" stroke="#000" stroke-width="0.25" textLength="21.0" lengthAdjust="spacingAndGlyphs" >Time</text>
<text x="7.30" y="234.35" font-size="9.8" font-weight="bold" text-anchor="middle" fill="#000" stroke="#000" stroke-width="0.25" textLength="72.3" lengthAdjust="spacingAndGlyphs" transform="rotate(-90 7.30 234.35)" >No. of IL-2 Spots</text>
<polyline points="51.9,280.2 85.3,227.2 118.9,195.7" fill="none" stroke="#000" stroke-width="1.7"/>
<line x1="85.30" y1="224.40" x2="85.30" y2="230.00" stroke="#000" stroke-width="1.3" />
<line x1="83.20" y1="224.40" x2="87.40" y2="224.40" stroke="#000" stroke-width="1.4" />
<line x1="83.20" y1="230.00" x2="87.40" y2="230.00" stroke="#000" stroke-width="1.4" />
<line x1="118.90" y1="192.20" x2="118.90" y2="199.10" stroke="#000" stroke-width="1.3" />
<line x1="116.10" y1="192.20" x2="121.70" y2="192.20" stroke="#000" stroke-width="1.4" />
<line x1="116.10" y1="199.10" x2="121.70" y2="199.10" stroke="#000" stroke-width="1.4" />
<circle cx="51.9" cy="280.2" r="2.8" fill="#000"/>
<circle cx="85.3" cy="227.2" r="2.8" fill="#000"/>
<circle cx="118.9" cy="195.7" r="2.8" fill="#000"/>
<polyline points="51.9,286.9 85.1,279.8 118.7,282.6" fill="none" stroke="#000" stroke-width="1.4"/>
<polyline points="51.9,286.9 85.1,284.3 118.7,284.3" fill="none" stroke="#000" stroke-width="1.4"/>
<circle cx="51.9" cy="286.9" r="2.6" fill="#d8d8d8" stroke="#000" stroke-width="1.3"/>
<circle cx="85.1" cy="279.8" r="2.6" fill="#d8d8d8" stroke="#000" stroke-width="1.3"/>
<circle cx="118.7" cy="282.6" r="2.6" fill="#d8d8d8" stroke="#000" stroke-width="1.3"/>
<polygon points="85.10,281.50 85.84,283.28 87.76,283.43 86.30,284.69 86.75,286.57 85.10,285.56 83.45,286.57 83.90,284.69 82.44,283.43 84.36,283.28" fill="#000"/>
<polygon points="118.70,281.50 119.44,283.28 121.36,283.43 119.90,284.69 120.35,286.57 118.70,285.56 117.05,286.57 117.50,284.69 116.04,283.43 117.96,283.28" fill="#000"/>
<circle cx="51.9" cy="286.9" r="2.9" fill="#111"/>
<circle cx="51.9" cy="286.9" r="1.2" fill="#555"/>
<line x1="121.80" y1="217.70" x2="131.20" y2="217.70" stroke="#000" stroke-width="1.2" />
<circle cx="126.5" cy="217.7" r="3.0" fill="#000"/>
<line x1="121.80" y1="226.50" x2="131.20" y2="226.50" stroke="#000" stroke-width="1.2" />
<circle cx="126.5" cy="226.5" r="2.7" fill="#fff" stroke="#000" stroke-width="1.4"/>
<line x1="124.20" y1="226.50" x2="128.80" y2="226.50" stroke="#000" stroke-width="1.1" />
<line x1="121.80" y1="236.00" x2="131.20" y2="236.00" stroke="#000" stroke-width="1.2" />
<polygon points="126.50,232.50 127.50,234.52 129.73,234.85 128.12,236.43 128.50,238.65 126.50,237.60 124.50,238.65 124.88,236.43 123.27,234.85 125.50,234.52" fill="#000"/>
<text x="134.80" y="220.30" font-size="7.0" font-weight="normal" text-anchor="start" fill="#000" stroke="#000" stroke-width="0.26" textLength="46.0" lengthAdjust="spacingAndGlyphs" >HLA-A2 Bcells</text>
<text x="134.80" y="229.00" font-size="7.0" font-weight="normal" text-anchor="start" fill="#000" stroke="#000" stroke-width="0.26" textLength="57.6" lengthAdjust="spacingAndGlyphs" >HLA-A2 IPS-HPCs</text>
<text x="134.80" y="238.10" font-size="7.0" font-weight="normal" text-anchor="start" fill="#000" stroke="#000" stroke-width="0.26" textLength="56.5" lengthAdjust="spacingAndGlyphs" >Non HLA-A2 cells</text>
<text x="207.20" y="180.00" font-size="11.0" font-weight="bold" text-anchor="start" fill="#000" stroke="#000" stroke-width="0.4" textLength="7.9" lengthAdjust="spacingAndGlyphs" >D</text>
<path d="M230.60,299.60 L230.60,281.00 L230.80,280.60 L232.80,274.80 L233.80,267.00 L234.70,259.30 L235.50,254.00 L237.00,248.00 L238.10,242.00 L238.60,236.60 L239.70,229.20 L240.70,223.90 L241.20,217.50 L242.50,216.00 L243.80,214.00 L244.90,212.00 L245.80,214.50 L246.50,217.50 L248.10,221.80 L249.20,229.20 L249.90,231.50 L250.60,226.00 L251.30,223.60 L252.10,229.00 L252.90,235.50 L254.50,242.00 L256.00,248.00 L257.20,254.00 L258.40,258.00 L259.60,262.00 L258.50,272.00 L257.90,278.70 L256.00,290.30 L255.00,298.00 L254.60,299.60Z" fill="#8c8c8c"/>
<path d="M255.20,299.60 L256.20,295.00 L258.00,282.40 L259.00,270.00 L259.60,262.00 L260.50,261.00 L261.50,264.00 L262.50,260.00 L263.80,253.00 L264.30,240.00 L264.60,233.00 L265.20,224.00 L265.80,216.00 L266.90,211.80 L267.60,215.00 L268.20,220.00 L268.80,232.00 L269.30,240.00 L270.00,255.00 L270.40,274.30 L271.20,285.00 L272.00,293.70 L274.10,297.70 L275.00,299.60Z" fill="#000"/>
<path d="M274.50,299.20 L277.00,298.60 L279.70,297.60 L281.50,296.20 L283.80,295.60 L286.00,296.20 L288.50,295.60 L290.20,294.20 L291.20,290.00 L291.80,285.60 L292.80,275.00 L293.50,266.20 L293.80,255.00 L294.10,243.90 L294.50,233.00 L294.90,223.70 L295.50,216.00 L296.20,212.80 L296.90,217.00 L297.70,225.20 L298.30,230.00 L298.80,233.00 L300.20,236.00 L301.20,237.00 L301.80,241.00 L302.70,245.50 L303.50,250.00 L304.30,255.00 L305.60,269.40 L307.00,280.00 L308.80,290.50 L310.00,294.00 L311.30,296.10 L314.50,297.70 L318.00,298.80 L322.00,299.20" fill="none" stroke="#000" stroke-width="1.3" stroke-linejoin="round"/>
<path d="M299.6,235.6 L301.5,236.6 L302.2,243.5 L300.6,243Z" fill="#000"/>
<line x1="230.60" y1="207.50" x2="324.40" y2="207.50" stroke="#222" stroke-width="1.2" />
<line x1="324.40" y1="207.50" x2="324.40" y2="299.60" stroke="#222" stroke-width="1.2" />
<line x1="230.40" y1="206.80" x2="230.40" y2="300.20" stroke="#000" stroke-width="1.3" />
<line x1="229.80" y1="299.70" x2="324.90" y2="299.70" stroke="#000" stroke-width="1.4" />
<line x1="227.60" y1="299.60" x2="230.40" y2="299.60" stroke="#000" stroke-width="1.0" />
<text x="227.30" y="301.20" font-size="4.6" font-weight="normal" text-anchor="end" fill="#222" stroke="#222" stroke-width="0.1" >0</text>
<line x1="229.00" y1="294.95" x2="230.40" y2="294.95" stroke="#000" stroke-width="0.9" />
<line x1="229.00" y1="290.29" x2="230.40" y2="290.29" stroke="#000" stroke-width="0.9" />
<line x1="229.00" y1="285.64" x2="230.40" y2="285.64" stroke="#000" stroke-width="0.9" />
<line x1="227.60" y1="280.98" x2="230.40" y2="280.98" stroke="#000" stroke-width="1.0" />
<text x="227.30" y="282.58" font-size="4.6" font-weight="normal" text-anchor="end" fill="#222" stroke="#222" stroke-width="0.1" >20</text>
<line x1="229.00" y1="276.33" x2="230.40" y2="276.33" stroke="#000" stroke-width="0.9" />
<line x1="229.00" y1="271.67" x2="230.40" y2="271.67" stroke="#000" stroke-width="0.9" />
<line x1="229.00" y1="267.02" x2="230.40" y2="267.02" stroke="#000" stroke-width="0.9" />
<line x1="227.60" y1="262.36" x2="230.40" y2="262.36" stroke="#000" stroke-width="1.0" />
<text x="227.30" y="263.96" font-size="4.6" font-weight="normal" text-anchor="end" fill="#222" stroke="#222" stroke-width="0.1" >40</text>
<line x1="229.00" y1="257.71" x2="230.40" y2="257.71" stroke="#000" stroke-width="0.9" />
<line x1="229.00" y1="253.05" x2="230.40" y2="253.05" stroke="#000" stroke-width="0.9" />
<line x1="229.00" y1="248.40" x2="230.40" y2="248.40" stroke="#000" stroke-width="0.9" />
<line x1="227.60" y1="243.74" x2="230.40" y2="243.74" stroke="#000" stroke-width="1.0" />
<text x="227.30" y="245.34" font-size="4.6" font-weight="normal" text-anchor="end" fill="#222" stroke="#222" stroke-width="0.1" >60</text>
<line x1="229.00" y1="239.09" x2="230.40" y2="239.09" stroke="#000" stroke-width="0.9" />
<line x1="229.00" y1="234.43" x2="230.40" y2="234.43" stroke="#000" stroke-width="0.9" />
<line x1="229.00" y1="229.78" x2="230.40" y2="229.78" stroke="#000" stroke-width="0.9" />
<line x1="227.60" y1="225.12" x2="230.40" y2="225.12" stroke="#000" stroke-width="1.0" />
<text x="227.30" y="226.72" font-size="4.6" font-weight="normal" text-anchor="end" fill="#222" stroke="#222" stroke-width="0.1" >80</text>
<line x1="229.00" y1="220.47" x2="230.40" y2="220.47" stroke="#000" stroke-width="0.9" />
<line x1="229.00" y1="215.81" x2="230.40" y2="215.81" stroke="#000" stroke-width="0.9" />
<line x1="229.00" y1="211.16" x2="230.40" y2="211.16" stroke="#000" stroke-width="0.9" />
<line x1="227.60" y1="206.50" x2="230.40" y2="206.50" stroke="#000" stroke-width="1.0" />
<text x="227.30" y="208.10" font-size="4.6" font-weight="normal" text-anchor="end" fill="#222" stroke="#222" stroke-width="0.1" >100</text>
<line x1="230.60" y1="299.70" x2="230.60" y2="302.00" stroke="#000" stroke-width="1.0" />
<text x="229.70" y="306.00" font-size="4.6" font-weight="normal" text-anchor="middle" fill="#222" stroke="#222" stroke-width="0.1" >10</text>
<text x="232.00" y="304.00" font-size="3.2" font-weight="normal" text-anchor="start" fill="#222" stroke="#222" stroke-width="0.05" >0</text>
<line x1="254.05" y1="299.70" x2="254.05" y2="302.00" stroke="#000" stroke-width="1.0" />
<text x="253.15" y="306.00" font-size="4.6" font-weight="normal" text-anchor="middle" fill="#222" stroke="#222" stroke-width="0.1" >10</text>
<text x="255.45" y="304.00" font-size="3.2" font-weight="normal" text-anchor="start" fill="#222" stroke="#222" stroke-width="0.05" >1</text>
<line x1="277.50" y1="299.70" x2="277.50" y2="302.00" stroke="#000" stroke-width="1.0" />
<text x="276.60" y="306.00" font-size="4.6" font-weight="normal" text-anchor="middle" fill="#222" stroke="#222" stroke-width="0.1" >10</text>
<text x="278.90" y="304.00" font-size="3.2" font-weight="normal" text-anchor="start" fill="#222" stroke="#222" stroke-width="0.05" >2</text>
<line x1="300.95" y1="299.70" x2="300.95" y2="302.00" stroke="#000" stroke-width="1.0" />
<text x="300.05" y="306.00" font-size="4.6" font-weight="normal" text-anchor="middle" fill="#222" stroke="#222" stroke-width="0.1" >10</text>
<text x="302.35" y="304.00" font-size="3.2" font-weight="normal" text-anchor="start" fill="#222" stroke="#222" stroke-width="0.05" >3</text>
<line x1="324.40" y1="299.70" x2="324.40" y2="302.00" stroke="#000" stroke-width="1.0" />
<text x="323.50" y="306.00" font-size="4.6" font-weight="normal" text-anchor="middle" fill="#222" stroke="#222" stroke-width="0.1" >10</text>
<text x="325.80" y="304.00" font-size="3.2" font-weight="normal" text-anchor="start" fill="#222" stroke="#222" stroke-width="0.05" >4</text>
<line x1="237.66" y1="299.70" x2="237.66" y2="301.20" stroke="#000" stroke-width="0.9" />
<line x1="241.79" y1="299.70" x2="241.79" y2="301.20" stroke="#000" stroke-width="0.9" />
<line x1="244.72" y1="299.70" x2="244.72" y2="301.20" stroke="#000" stroke-width="0.9" />
<line x1="246.99" y1="299.70" x2="246.99" y2="301.20" stroke="#000" stroke-width="0.9" />
<line x1="248.85" y1="299.70" x2="248.85" y2="301.20" stroke="#000" stroke-width="0.9" />
<line x1="250.42" y1="299.70" x2="250.42" y2="301.20" stroke="#000" stroke-width="0.9" />
<line x1="251.78" y1="299.70" x2="251.78" y2="301.20" stroke="#000" stroke-width="0.9" />
<line x1="252.98" y1="299.70" x2="252.98" y2="301.20" stroke="#000" stroke-width="0.9" />
<line x1="261.11" y1="299.70" x2="261.11" y2="301.20" stroke="#000" stroke-width="0.9" />
<line x1="265.24" y1="299.70" x2="265.24" y2="301.20" stroke="#000" stroke-width="0.9" />
<line x1="268.17" y1="299.70" x2="268.17" y2="301.20" stroke="#000" stroke-width="0.9" />
<line x1="270.44" y1="299.70" x2="270.44" y2="301.20" stroke="#000" stroke-width="0.9" />
<line x1="272.30" y1="299.70" x2="272.30" y2="301.20" stroke="#000" stroke-width="0.9" />
<line x1="273.87" y1="299.70" x2="273.87" y2="301.20" stroke="#000" stroke-width="0.9" />
<line x1="275.23" y1="299.70" x2="275.23" y2="301.20" stroke="#000" stroke-width="0.9" />
<line x1="276.43" y1="299.70" x2="276.43" y2="301.20" stroke="#000" stroke-width="0.9" />
<line x1="284.56" y1="299.70" x2="284.56" y2="301.20" stroke="#000" stroke-width="0.9" />
<line x1="288.69" y1="299.70" x2="288.69" y2="301.20" stroke="#000" stroke-width="0.9" />
<line x1="291.62" y1="299.70" x2="291.62" y2="301.20" stroke="#000" stroke-width="0.9" />
<line x1="293.89" y1="299.70" x2="293.89" y2="301.20" stroke="#000" stroke-width="0.9" />
<line x1="295.75" y1="299.70" x2="295.75" y2="301.20" stroke="#000" stroke-width="0.9" />
<line x1="297.32" y1="299.70" x2="297.32" y2="301.20" stroke="#000" stroke-width="0.9" />
<line x1="298.68" y1="299.70" x2="298.68" y2="301.20" stroke="#000" stroke-width="0.9" />
<line x1="299.88" y1="299.70" x2="299.88" y2="301.20" stroke="#000" stroke-width="0.9" />
<line x1="308.01" y1="299.70" x2="308.01" y2="301.20" stroke="#000" stroke-width="0.9" />
<line x1="312.14" y1="299.70" x2="312.14" y2="301.20" stroke="#000" stroke-width="0.9" />
<line x1="315.07" y1="299.70" x2="315.07" y2="301.20" stroke="#000" stroke-width="0.9" />
<line x1="317.34" y1="299.70" x2="317.34" y2="301.20" stroke="#000" stroke-width="0.9" />
<line x1="319.20" y1="299.70" x2="319.20" y2="301.20" stroke="#000" stroke-width="0.9" />
<line x1="320.77" y1="299.70" x2="320.77" y2="301.20" stroke="#000" stroke-width="0.9" />
<line x1="322.13" y1="299.70" x2="322.13" y2="301.20" stroke="#000" stroke-width="0.9" />
<line x1="323.33" y1="299.70" x2="323.33" y2="301.20" stroke="#000" stroke-width="0.9" />
<text x="229.50" y="203.20" font-size="8.0" font-weight="normal" text-anchor="start" fill="#000" stroke="#000" stroke-width="0.26" textLength="26.5" lengthAdjust="spacingAndGlyphs" >Isotype</text>
<text x="262.50" y="203.20" font-size="8.0" font-weight="normal" text-anchor="start" fill="#000" stroke="#000" stroke-width="0.26" textLength="26.4" lengthAdjust="spacingAndGlyphs" >Control</text>
<text x="300.90" y="203.20" font-size="8.0" font-weight="normal" text-anchor="start" fill="#000" stroke="#000" stroke-width="0.26" textLength="20.0" lengthAdjust="spacingAndGlyphs" >IFN-γ</text>
<text x="275.00" y="319.70" font-size="8.7" font-weight="bold" text-anchor="middle" fill="#000" stroke="#000" stroke-width="0.25" textLength="40.4" lengthAdjust="spacingAndGlyphs" >HLA-ABC</text>
<text x="214.90" y="253.70" font-size="8.8" font-weight="bold" text-anchor="middle" fill="#000" stroke="#000" stroke-width="0.25" textLength="28.9" lengthAdjust="spacingAndGlyphs" transform="rotate(-90 214.90 253.70)" >Events</text>
<text x="362.20" y="180.10" font-size="11.0" font-weight="bold" text-anchor="start" fill="#000" stroke="#000" stroke-width="0.4" textLength="7.0" lengthAdjust="spacingAndGlyphs" >E</text>
<line x1="392.00" y1="184.00" x2="392.00" y2="231.50" stroke="#000" stroke-width="1.4" />
<line x1="392.00" y1="239.40" x2="392.00" y2="286.40" stroke="#000" stroke-width="1.4" />
<line x1="389.60" y1="231.50" x2="394.40" y2="231.50" stroke="#000" stroke-width="1.3" />
<line x1="391.40" y1="239.40" x2="394.40" y2="239.40" stroke="#000" stroke-width="1.3" />
<line x1="391.40" y1="285.90" x2="502.80" y2="285.90" stroke="#000" stroke-width="1.4" />
<line x1="388.80" y1="231.30" x2="392.00" y2="231.30" stroke="#000" stroke-width="1.3" />
<text x="388.00" y="233.60" font-size="6.9" font-weight="bold" text-anchor="end" fill="#111" stroke="#111" stroke-width="0.25" textLength="7.3" lengthAdjust="spacingAndGlyphs" >60</text>
<line x1="388.80" y1="208.00" x2="392.00" y2="208.00" stroke="#000" stroke-width="1.3" />
<text x="388.00" y="210.30" font-size="6.9" font-weight="bold" text-anchor="end" fill="#111" stroke="#111" stroke-width="0.25" textLength="7.3" lengthAdjust="spacingAndGlyphs" >80</text>
<line x1="388.80" y1="184.70" x2="392.00" y2="184.70" stroke="#000" stroke-width="1.3" />
<text x="388.00" y="187.00" font-size="6.9" font-weight="bold" text-anchor="end" fill="#111" stroke="#111" stroke-width="0.25" textLength="11.2" lengthAdjust="spacingAndGlyphs" >100</text>
<line x1="388.80" y1="285.90" x2="392.00" y2="285.90" stroke="#000" stroke-width="1.3" />
<text x="388.00" y="288.20" font-size="6.9" font-weight="bold" text-anchor="end" fill="#111" stroke="#111" stroke-width="0.25" >0</text>
<line x1="388.80" y1="267.10" x2="392.00" y2="267.10" stroke="#000" stroke-width="1.3" />
<text x="388.00" y="269.40" font-size="6.9" font-weight="bold" text-anchor="end" fill="#111" stroke="#111" stroke-width="0.25" textLength="7.0" lengthAdjust="spacingAndGlyphs" >20</text>
<line x1="388.80" y1="248.30" x2="392.00" y2="248.30" stroke="#000" stroke-width="1.3" />
<text x="388.00" y="250.60" font-size="6.9" font-weight="bold" text-anchor="end" fill="#111" stroke="#111" stroke-width="0.25" textLength="7.0" lengthAdjust="spacingAndGlyphs" >40</text>
<text x="369.20" y="235.35" font-size="8.0" font-weight="bold" text-anchor="middle" fill="#000" stroke="#000" stroke-width="0.25" textLength="80.9" lengthAdjust="spacingAndGlyphs" transform="rotate(-90 369.20 235.35)" >% Specific Cell Lysis</text>
<defs><pattern id="hatch" patternUnits="userSpaceOnUse" width="2.3" height="2.3" patternTransform="rotate(45)"><rect width="2.3" height="2.3" fill="#fff"/><line x1="0.5" y1="0" x2="0.5" y2="2.3" stroke="#333" stroke-width="0.9"/></pattern></defs>
<rect x="400.6" y="284.4" width="20.0" height="1.5" fill="#999" stroke="#000" stroke-width="1.1"/>
<line x1="405.80" y1="283.50" x2="415.60" y2="283.50" stroke="#000" stroke-width="1.1" />
<rect x="436.6" y="256.8" width="20.4" height="29.1" fill="#999" stroke="#000" stroke-width="1.5"/>
<line x1="446.90" y1="255.00" x2="446.90" y2="256.80" stroke="#000" stroke-width="1.2" />
<line x1="441.80" y1="255.00" x2="452.30" y2="255.00" stroke="#000" stroke-width="1.4" />
<path d="M473.3,231.1 V211 H493.3 V231.1" fill="url(#hatch)" stroke="#000" stroke-width="1.4"/>
<path d="M473.3,238.3 V285.9 M493.3,285.9 V238.3" fill="none" stroke="#000" stroke-width="1.4"/>
<rect x="473.3" y="238.3" width="20" height="47.6" fill="url(#hatch)"/>
<line x1="473.30" y1="238.30" x2="473.30" y2="285.90" stroke="#000" stroke-width="1.4" />
<line x1="493.30" y1="238.30" x2="493.30" y2="285.90" stroke="#000" stroke-width="1.4" />
<line x1="483.60" y1="206.80" x2="483.60" y2="211.00" stroke="#000" stroke-width="1.3" />
<line x1="478.50" y1="206.80" x2="489.40" y2="206.80" stroke="#000" stroke-width="1.4" />
<line x1="411.00" y1="285.90" x2="411.00" y2="289.40" stroke="#000" stroke-width="1.1" />
<line x1="447.30" y1="285.90" x2="447.30" y2="289.40" stroke="#000" stroke-width="1.1" />
<line x1="483.60" y1="285.90" x2="483.60" y2="289.40" stroke="#000" stroke-width="1.1" />
<line x1="411.80" y1="248.50" x2="447.30" y2="248.50" stroke="#000" stroke-width="1.5" />
<polygon points="422.50,239.00 423.29,240.61 425.07,240.87 423.78,242.12 424.09,243.88 422.50,243.05 420.91,243.88 421.22,242.12 419.93,240.87 421.71,240.61" fill="#000"/>
<polygon points="428.00,239.00 428.79,240.61 430.57,240.87 429.28,242.12 429.59,243.88 428.00,243.05 426.41,243.88 426.72,242.12 425.43,240.87 427.21,240.61" fill="#000"/>
<polygon points="433.50,239.00 434.29,240.61 436.07,240.87 434.78,242.12 435.09,243.88 433.50,243.05 431.91,243.88 432.22,242.12 430.93,240.87 432.71,240.61" fill="#000"/>
<text x="363.50" y="302.70" font-size="8.6" font-weight="bold" text-anchor="start" fill="#000" stroke="#000" stroke-width="0.25" textLength="21.3" lengthAdjust="spacingAndGlyphs" >IFN-γ</text>
<rect x="409.3" y="300.8" width="4.2" height="1.4" fill="#000"/>
<rect x="482.8" y="300.7" width="4.0" height="1.4" fill="#000"/>
<rect x="444.6" y="300.3" width="5.4" height="1.3" fill="#000"/>
<rect x="446.65" y="298.3" width="1.3" height="5.2" fill="#000"/>
<line x1="401.70" y1="307.40" x2="452.80" y2="307.40" stroke="#444" stroke-width="1.2" />
<line x1="469.30" y1="307.20" x2="499.90" y2="307.20" stroke="#444" stroke-width="1.2" />
<text x="427.10" y="320.80" font-size="9.3" font-weight="bold" text-anchor="middle" fill="#000" stroke="#000" stroke-width="0.25" textLength="41.6" lengthAdjust="spacingAndGlyphs" >iPS-HPCs</text>
<text x="486.00" y="320.80" font-size="9.3" font-weight="bold" text-anchor="middle" fill="#000" stroke="#000" stroke-width="0.25" textLength="27.9" lengthAdjust="spacingAndGlyphs" >B cells</text>
</svg>
</body></html>
